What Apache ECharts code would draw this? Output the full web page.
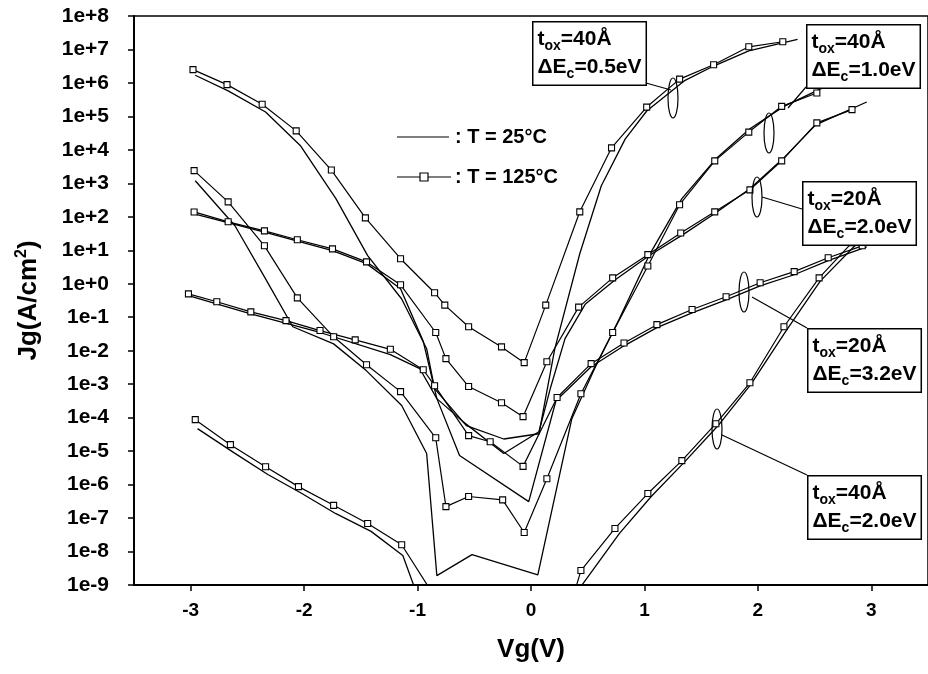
<!DOCTYPE html>
<html>
<head>
<meta charset="utf-8">
<script src="https://cdn.jsdelivr.net/npm/echarts@6/dist/echarts.min.js"></script>
<style>
  html, body { margin: 0; background: #fff; }
  #chart { width: 928px; height: 674px; }
</style>
</head>
<body>
<div id="chart"></div>
<script>
// tox=40A, dEc=0.5eV
const x_m1 = [-2.98, -2.68, -2.37, -2.07, -1.76, -1.46, -1.15, -0.85, -0.76, -0.55, -0.26, -0.06, 0.13, 0.43, 0.71, 1.02, 1.31, 1.61, 1.92, 2.22];
const jg_m1 = [2.5e6, 8.9e5, 2.3e5, 3.7e4, 2.5e3, 93, 5.6, 0.54, 0.23, 0.052, 0.013, 4.4e-3, 0.23, 141, 1.15e4, 1.9e5, 1.3e6, 3.5e6, 1.2e7, 1.7e7];
const x_s1 = [-2.96, -2.67, -2.34, -2.03, -1.72, -1.44, -1.14, -0.92, -0.85, -0.57, -0.24, 0.07, 0.21, 0.43, 0.62, 0.83, 1.02, 1.35, 1.61, 1.92, 2.35];
const jg_s1 = [1.7e6, 5.8e5, 1.35e5, 1.3e4, 350, 6.9, 0.35, 0.0115, 7.4e-4, 5.8e-5, 2.3e-5, 3.3e-5, 0.0115, 7.9, 850, 2.1e4, 1.45e5, 1.15e6, 3.2e6, 9.1e6, 2e7];

// tox=40A, dEc=1.0eV
const x_m2 = [-2.97, -2.67, -2.35, -2.06, -1.74, -1.45, -1.15, -0.84, -0.75, -0.55, -0.25, -0.06, 0.14, 0.44, 0.72, 1.03, 1.31, 1.62, 1.92, 2.21, 2.52];
const jg_m2 = [2.4e3, 280, 13.6, 0.38, 0.026, 3.8e-3, 6e-4, 2.5e-5, 2.2e-7, 4.4e-7, 3.5e-7, 3.7e-8, 1.5e-6, 5.2e-4, 0.035, 3.4, 230, 4.7e3, 3.4e4, 2e5, 5e5];
const x_s2 = [-2.96, -2.61, -2.34, -2.10, -1.74, -1.45, -1.14, -0.92, -0.83, -0.52, 0.06, 0.36, 0.56, 0.78, 1.04, 1.33, 1.63, 1.93, 2.23, 2.59];
const jg_s2 = [1.2e3, 54, 1.4, 0.052, 0.016, 2.5e-3, 2.3e-4, 8.5e-6, 1.9e-9, 8.1e-9, 2e-9, 9.3e-5, 2.9e-3, 0.091, 6.9, 350, 5.4e3, 4.3e4, 2e5, 7.6e5];

// tox=20A, dEc=2.0eV
const x_m3 = [-2.97, -2.67, -2.35, -2.06, -1.75, -1.45, -1.15, -0.84, -0.75, -0.55, -0.26, -0.07, 0.14, 0.42, 0.72, 1.03, 1.32, 1.62, 1.93, 2.21, 2.52, 2.83];
const jg_m3 = [140, 71, 38, 20.6, 11, 4.5, 0.93, 0.035, 5.8e-3, 8.5e-4, 2.8e-4, 1.07e-4, 4.7e-3, 0.2, 1.5, 7.4, 33, 141, 640, 4.7e3, 6.4e4, 1.6e5];
const x_s3 = [-2.97, -2.35, -1.75, -1.45, -1.15, -0.95, -0.83, -0.60, -0.24, 0.07, 0.17, 0.30, 0.48, 0.74, 1.04, 1.35, 1.63, 1.93, 2.22, 2.51, 2.96];
const jg_s3 = [123, 35, 9.8, 4, 0.71, 0.019, 3.7e-4, 7.6e-5, 8.5e-6, 3.8e-5, 7.4e-4, 0.023, 0.25, 1.3, 6.9, 31, 132, 690, 5.4e3, 5.6e4, 2.7e5];

// tox=20A, dEc=3.2eV
const x_m4 = [-3.02, -2.77, -2.47, -2.16, -1.86, -1.55, -1.24, -0.95, -0.85, -0.55, -0.36, -0.07, 0.23, 0.53, 0.82, 1.11, 1.42, 1.72, 2.02, 2.32, 2.62, 2.92];
const jg_m4 = [0.5, 0.29, 0.145, 0.079, 0.04, 0.021, 0.011, 2.7e-3, 9e-4, 2.9e-5, 1.9e-5, 3.5e-6, 4e-4, 4.1e-3, 0.017, 0.06, 0.17, 0.41, 1.07, 2.3, 6, 13.6];
const x_s4 = [-3.02, -2.47, -1.86, -1.24, -0.98, -0.83, -0.63, -0.02, 0.22, 0.53, 0.82, 1.11, 1.42, 1.72, 2.02, 2.32, 2.62, 2.96];
const jg_s4 = [0.44, 0.126, 0.035, 7.6e-3, 2.9e-3, 3.7e-4, 7.4e-6, 3.1e-7, 3.2e-4, 3.3e-3, 0.014, 0.049, 0.135, 0.33, 0.87, 1.86, 4.9, 12.6];

// tox=40A, dEc=2.0eV (two branches, both leave through the bottom)
const x_m5a = [-2.96, -2.65, -2.34, -2.05, -1.74, -1.44, -1.14, -0.84];
const jg_m5a = [8.7e-5, 1.56e-5, 3.4e-6, 8.7e-7, 2.4e-7, 6.9e-8, 1.6e-8, 4e-10];
const x_m5b = [0.14, 0.44, 0.74, 1.03, 1.33, 1.63, 1.93, 2.23, 2.54, 2.83];
const jg_m5b = [1e-12, 2.7e-9, 4.9e-8, 5.4e-7, 5.2e-6, 6.6e-5, 1.1e-3, 0.052, 1.5, 17];
const x_s5a = [-2.94, -2.62, -2.32, -2.02, -1.72, -1.41, -1.13, -0.96];
const jg_s5a = [4.7e-5, 9e-6, 2e-6, 5.4e-7, 1.35e-7, 4e-8, 7.6e-9, 2e-10];
const x_s5b = [0.30, 0.78, 1.06, 1.35, 1.65, 1.94, 2.25, 2.55, 2.95];
const jg_s5b = [2e-10, 3.5e-8, 4.4e-7, 4.6e-6, 5.8e-5, 1e-3, 0.04, 1.2, 29];

const F = "'Liberation Sans', Arial, sans-serif";

function pair(xs, ys) {
  return xs.map((x, i) => [x, ys[i]]);
}

function hot(xs, ys) {
  return {
    type: 'line', name: 'T = 125°C', data: pair(xs, ys),
    symbol: 'rect', symbolSize: 6,
    lineStyle: { color: '#000', width: 1.2 },
    itemStyle: { color: '#fff', borderColor: '#000', borderWidth: 1.1 },
    clip: true, z: 3
  };
}

function cold(xs, ys) {
  return {
    type: 'line', name: 'T = 25°C', data: pair(xs, ys),
    symbol: 'none',
    lineStyle: { color: '#000', width: 1.3 },
    clip: true, z: 2
  };
}

const boxRich = {
  n: { fontSize: 21, fontWeight: 'bold', fontFamily: F, color: '#000', lineHeight: 28 },
  s: { fontSize: 14, fontWeight: 'bold', fontFamily: F, color: '#000', lineHeight: 28, verticalAlign: 'bottom' }
};

function box(left, top, tox, dec) {
  return {
    type: 'text', left: left, top: top, z: 20,
    style: {
      text: '{n|t}{s|ox}{n|=' + tox + 'Å}\n{n|ΔE}{s|c}{n|=' + dec + 'eV}',
      rich: boxRich,
      backgroundColor: '#fff', borderColor: '#000', borderWidth: 1.5,
      padding: [3, 4, 3, 4]
    }
  };
}

function oval(cx, cy) {
  return { type: 'ellipse', z: 15, shape: { cx: cx, cy: cy, rx: 5, ry: 20 }, style: { fill: null, stroke: '#000', lineWidth: 1.2 } };
}

function lead(x1, y1, x2, y2) {
  return { type: 'line', z: 15, shape: { x1: x1, y1: y1, x2: x2, y2: y2 }, style: { stroke: '#000', lineWidth: 1.2 } };
}

const chart = echarts.init(document.getElementById('chart'));

chart.setOption({
  backgroundColor: '#fff',
  animation: false,
  grid: { left: 134, right: -8, top: 16, bottom: 89, show: true, borderColor: '#000', borderWidth: 1.5 },
  xAxis: {
    type: 'value', min: -3.5, max: 3.5, splitNumber: 7,
    axisLine: { onZero: false, lineStyle: { color: '#000', width: 2 } },
    axisTick: { length: 6, lineStyle: { color: '#000', width: 1.5 } },
    splitLine: { show: false },
    axisLabel: { showMinLabel: false, showMaxLabel: false, color: '#000', fontSize: 19, fontWeight: 'bold', fontFamily: F, margin: 16 },
    name: 'Vg(V)', nameLocation: 'middle', nameGap: 52,
    nameTextStyle: { color: '#000', fontSize: 26, fontWeight: 'bold', fontFamily: F }
  },
  yAxis: {
    type: 'log', logBase: 10, min: 1e-9, max: 1e8, interval: 1,
    axisLine: { show: true, onZero: false, lineStyle: { color: '#000', width: 2 } },
    axisTick: { show: true, length: 6, lineStyle: { color: '#000', width: 1.5 } },
    splitLine: { show: false },
    minorTick: { show: false },
    axisLabel: {
      color: '#000', fontSize: 21, fontWeight: 'bold', fontFamily: F, margin: 25,
      formatter: function (v) {
        const e = Math.round(Math.log10(v));
        return '1e' + (e >= 0 ? '+' : '') + e;
      }
    },
    name: '{a|Jg(A/cm}{b|2}{a|)}', nameLocation: 'middle', nameRotate: 90, nameGap: 90,
    nameTextStyle: {
      rich: {
        a: { fontSize: 26, fontWeight: 'bold', fontFamily: F, color: '#000', lineHeight: 30 },
        b: { fontSize: 16, fontWeight: 'bold', fontFamily: F, color: '#000', lineHeight: 30, verticalAlign: 'top' }
      }
    }
  },
  series: [
    hot(x_m1, jg_m1), cold(x_s1, jg_s1),
    hot(x_m2, jg_m2), cold(x_s2, jg_s2),
    hot(x_m3, jg_m3), cold(x_s3, jg_s3),
    hot(x_m4, jg_m4), cold(x_s4, jg_s4),
    hot(x_m5a, jg_m5a), hot(x_m5b, jg_m5b),
    cold(x_s5a, jg_s5a), cold(x_s5b, jg_s5b)
  ],
  graphic: [
    // legend
    lead(397, 137, 449, 137),
    { type: 'text', z: 20, x: 455, y: 137, style: { text: ': T = 25°C', fontSize: 20, fontWeight: 'bold', fontFamily: F, fill: '#000', verticalAlign: 'middle' } },
    lead(397, 177, 451, 177),
    { type: 'rect', z: 21, shape: { x: 420, y: 173, width: 8, height: 8 }, style: { fill: '#fff', stroke: '#000', lineWidth: 1.2 } },
    { type: 'text', z: 20, x: 455, y: 177, style: { text: ': T = 125°C', fontSize: 20, fontWeight: 'bold', fontFamily: F, fill: '#000', verticalAlign: 'middle' } },

    // annotations
    box(532, 21, '40', '0.5'),
    lead(646, 83, 671, 90),
    oval(673, 98),

    box(806, 24, '40', '1.0'),
    lead(806, 87, 788, 108),
    oval(769, 133),

    box(802, 181, '20', '2.0'),
    lead(762, 197, 802, 209),
    oval(757, 197),

    box(807, 328, '20', '3.2'),
    lead(752, 297, 807, 328),
    oval(744, 292),

    box(807, 475, '40', '2.0'),
    lead(722, 435, 807, 475),
    oval(717, 429)
  ]
});
</script>
</body>
</html>
